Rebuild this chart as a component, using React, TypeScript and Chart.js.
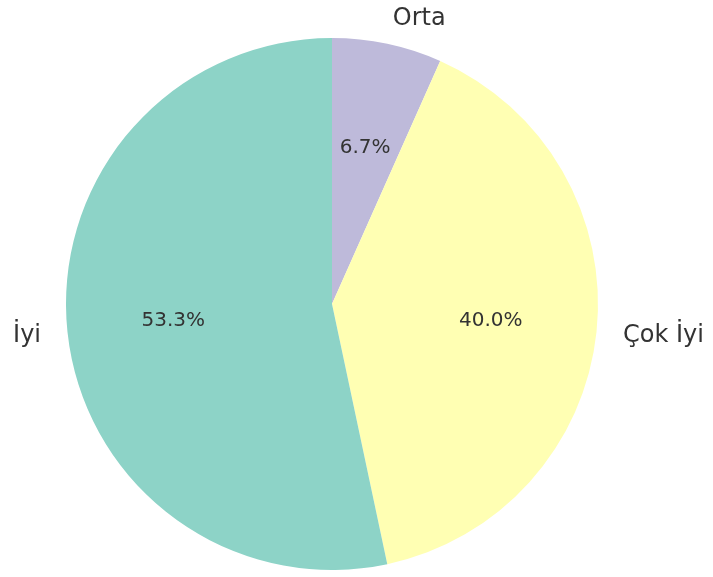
import React, { useEffect, useRef } from "react";
import { Chart, registerables } from "chart.js";

Chart.register(...registerables);

// Ordered clockwise from the top (Chart.js direction)
const categories = ["Orta", "Çok İyi", "İyi"];
const values = [1, 6, 8];
const colors = ["#bebada", "#ffffb3", "#8dd3c7"];

const labelPlugin = {
  id: "pieLabels",
  afterDatasetsDraw(chart: any) {
    const ctx = chart.ctx;
    const meta = chart.getDatasetMeta(0);
    const data = chart.data.datasets[0].data as number[];
    const total = data.reduce((a, b) => a + b, 0);
    ctx.save();
    ctx.fillStyle = "#333333";
    meta.data.forEach((arc: any, i: number) => {
      const { x, y, startAngle, endAngle, outerRadius } = arc.getProps(
        ["x", "y", "startAngle", "endAngle", "outerRadius"],
        true
      );
      const mid = (startAngle + endAngle) / 2;
      const cx = Math.cos(mid);
      const cy = Math.sin(mid);
      // percentage
      ctx.font = "20px 'DejaVu Sans'";
      ctx.textAlign = "center";
      ctx.textBaseline = "middle";
      const pct = ((data[i] / total) * 100).toFixed(1) + "%";
      ctx.fillText(pct, x + cx * outerRadius * 0.6, y + cy * outerRadius * 0.6);
      // category label
      ctx.font = "24px 'DejaVu Sans'";
      ctx.textAlign = cx >= 0 ? "left" : "right";
      ctx.fillText(
        chart.data.labels[i],
        x + cx * outerRadius * 1.1,
        y + cy * outerRadius * 1.1 + 1
      );
    });
    ctx.restore();
  },
};

export default function App() {
  const ref = useRef<HTMLCanvasElement>(null);
  useEffect(() => {
    if (!ref.current) return;
    const chart = new Chart(ref.current, {
      type: "pie",
      data: {
        labels: categories,
        datasets: [
          {
            data: values,
            backgroundColor: colors,
            borderWidth: 0,
          },
        ],
      },
      options: {
        responsive: false,
        animation: false,
        rotation: 0,
        layout: { padding: { left: 66, right: 115, top: 38, bottom: 7 } },
        plugins: {
          legend: { display: false },
          tooltip: { enabled: false },
        },
      },
      plugins: [labelPlugin],
    });
    return () => chart.destroy();
  }, []);
  return (
    <div style={{ position: "fixed", left: 0, top: 0, width: 713, height: 577, background: "#fff" }}>
      <canvas ref={ref} width={713} height={577} style={{ width: 713, height: 577 }} />
    </div>
  );
}
